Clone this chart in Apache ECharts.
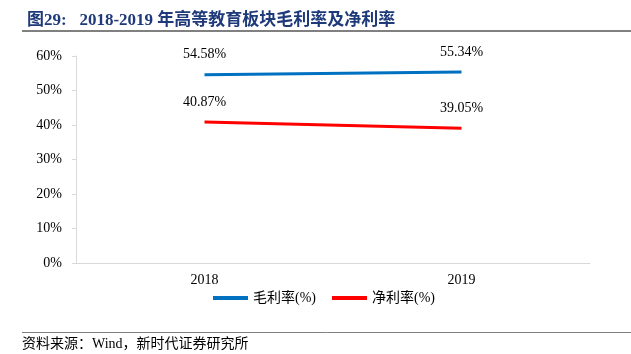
<!DOCTYPE html>
<html><head><meta charset="utf-8">
<script src="https://cdn.jsdelivr.net/npm/echarts@6/dist/echarts.min.js"></script>
<style>html,body{margin:0;padding:0;background:#fff}#c{width:631px;height:354px}</style>
</head><body><div id="c"></div>
<script>
const categories = ['2018', '2019'];
const grossMargin = [54.58, 55.34];
const netMargin = [40.87, 39.05];
const yTicks = [0, 10, 20, 30, 40, 50, 60];
const seriesNames = ['毛利率(%)', '净利率(%)'];
const titleText = '图29:   2018-2019 年高等教育板块毛利率及净利率';
const sourceText = '资料来源：Wind，新时代证券研究所';

const chart = echarts.init(document.getElementById('c'), null, {renderer: 'canvas'});
const serif = '"Liberation Serif","Times New Roman","Noto Sans CJK SC",serif';
chart.setOption({
  animation: false,
  title: {
    text: titleText, left: 22, top: 7,
    textStyle: {fontFamily: serif, fontWeight: 'bold', fontSize: 17, color: '#1F3A7A'}
  },
  graphic: [
    {type: 'line', shape: {x1: 22, y1: 31, x2: 631, y2: 31}, style: {stroke: '#808080', lineWidth: 2}},
    {type: 'line', shape: {x1: 22, y1: 332.5, x2: 631, y2: 332.5}, style: {stroke: '#808080', lineWidth: 1}},
    {type: 'text', left: 22, top: 337, style: {text: sourceText, font: '14px ' + serif, fill: '#000'}}
  ],
  legend: {
    bottom: 44, left: 208,
    itemWidth: 35, itemHeight: 4, itemGap: 16,
    icon: 'rect',
    textStyle: {fontFamily: serif, fontSize: 14, color: '#000'},
    data: seriesNames
  },
  grid: {left: 76, right: 41, top: 56, bottom: 91},
  xAxis: {
    type: 'category', data: categories, boundaryGap: true,
    axisLine: {lineStyle: {color: '#d9d9d9'}},
    axisTick: {show: false},
    axisLabel: {fontFamily: serif, fontSize: 14, color: '#000', margin: 10}
  },
  yAxis: {
    type: 'value', min: 0, max: 60, interval: 10,
    axisLine: {show: true, lineStyle: {color: '#d9d9d9'}},
    axisTick: {show: true, inside: false, length: 4, lineStyle: {color: '#d9d9d9'}},
    splitLine: {show: false},
    axisLabel: {fontFamily: serif, fontSize: 14, color: '#000', margin: 14,
      formatter: v => yTicks.includes(v) ? v + '%' : ''}
  },
  series: [
    {name: seriesNames[0], type: 'line', data: grossMargin, symbol: 'circle', symbolSize: 0, showSymbol: true,
     lineStyle: {color: '#0070C0', width: 3}, itemStyle: {color: '#0070C0'},
     label: {show: true, position: 'top', distance: 13, fontFamily: serif, fontSize: 14, color: '#000',
       formatter: p => p.value.toFixed(2) + '%'}},
    {name: seriesNames[1], type: 'line', data: netMargin, symbol: 'circle', symbolSize: 0, showSymbol: true,
     lineStyle: {color: '#FF0000', width: 3}, itemStyle: {color: '#FF0000'},
     label: {show: true, position: 'top', distance: 13, fontFamily: serif, fontSize: 14, color: '#000',
       formatter: p => p.value.toFixed(2) + '%'}}
  ]
});
</script></body></html>
